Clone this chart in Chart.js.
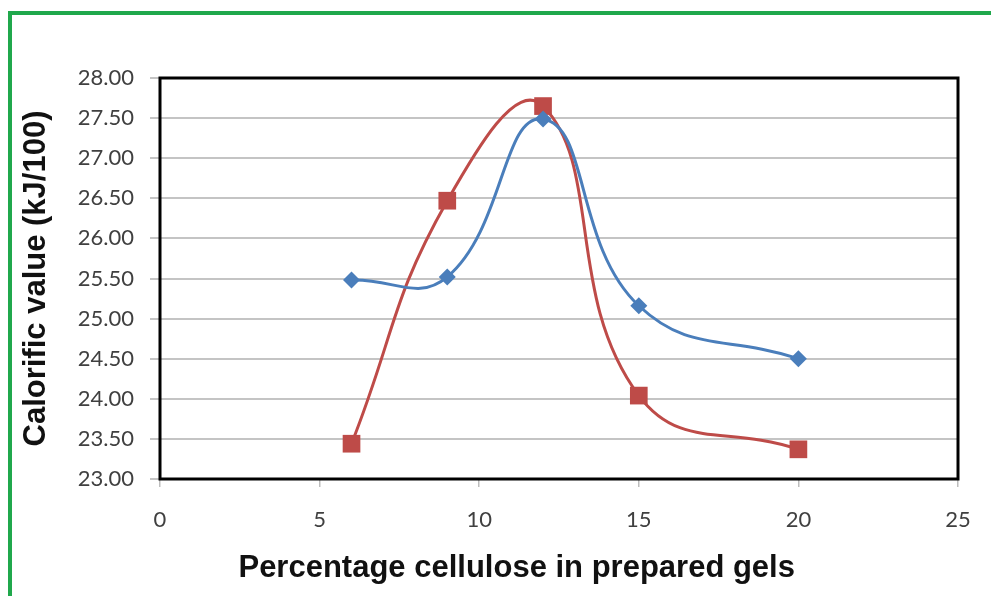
<!DOCTYPE html>
<html>
<head>
<meta charset="utf-8">
<script src="https://cdn.jsdelivr.net/npm/chart.js@4"></script>
<style>
    html, body { margin: 0; padding: 0; background: #ffffff; overflow: hidden; }
    #frame
    {
        position: absolute; left: 8px; top: 11px;
        width: 1200px; height: 800px;
        border: 4px solid #20a84c;
    }
    #holder { position: absolute; left: 0; top: 0; width: 991px; height: 596px; }
</style>
</head>
<body>
<div id="frame"></div>
<div id="holder"><canvas id="calorific_chart"></canvas></div>
<script>

// Cellulose percentage in the gels (x) and calorific value (kJ/100) for the two series
const cellulose_percent = [6, 9, 12, 15, 20]
const calorific_blue = [25.48, 25.52, 27.49, 25.16, 24.50]
const calorific_red = [23.44, 26.47, 27.65, 24.04, 23.37]

const x_ticks = [0, 5, 10, 15, 20, 25]
const y_ticks = [23.0, 23.5, 24.0, 24.5, 25.0, 25.5, 26.0, 26.5, 27.0, 27.5, 28.0]

const x_title = "Percentage cellulose in prepared gels"
const y_title = "Calorific value (kJ/100)"

const tick_font = { family: "Lato", size: 22 }
const title_font_family = "'Liberation Sans', Arial, sans-serif"

function to_points(ys)
{
    return cellulose_percent.map((x, i) => ({ x: x, y: ys[i] }))
}

// Black box around the plot area, like the spreadsheet chart it comes from
const plot_frame = {
    id: "plot_frame",
    beforeDatasetsDraw(chart)
    {
        const { ctx, chartArea } = chart
        ctx.save()
        ctx.strokeStyle = "#000000"
        ctx.lineWidth = 3
        ctx.strokeRect(chartArea.left, chartArea.top, chartArea.right - chartArea.left, chartArea.bottom - chartArea.top)
        ctx.restore()
    }
}

// The x title sits a little left of the plot centre, so it is drawn by hand
const x_axis_title = {
    id: "x_axis_title",
    afterDraw(chart)
    {
        const { ctx, chartArea } = chart
        ctx.save()
        ctx.font = "bold 31px " + title_font_family
        ctx.fillStyle = "#111111"
        ctx.textAlign = "center"
        ctx.textBaseline = "middle"
        ctx.fillText(x_title, chartArea.left + (chartArea.right - chartArea.left) * 0.447, 568)
        ctx.restore()
    }
}

const context_2d = document.getElementById("calorific_chart").getContext("2d")

new Chart(context_2d, {
    type: "line",
    data: {
        datasets: [
            {
                label: "Series 1",
                data: to_points(calorific_blue),
                borderColor: "#4a7ebb",
                backgroundColor: "#4a7ebb",
                borderWidth: 3,
                tension: 0.45,
                pointStyle: "rectRot",
                pointRadius: 8.5,
                pointBorderWidth: 0,
                fill: false,
            },
            {
                label: "Series 2",
                data: to_points(calorific_red),
                borderColor: "#be4b48",
                backgroundColor: "#be4b48",
                borderWidth: 3,
                tension: 0.45,
                pointStyle: "rect",
                pointRadius: 12.5,
                pointBorderWidth: 0,
                fill: false,
            },
        ]
    },
    options: {
        responsive: true,
        maintainAspectRatio: false,
        animation: false,
        layout: {
            padding: { left: 12, top: 78, right: 33, bottom: 0 }
        },
        plugins: {
            legend: { display: false },
            tooltip: { enabled: false },
        },
        scales: {
            x: {
                type: "linear",
                min: x_ticks[0],
                max: x_ticks[x_ticks.length - 1],
                afterBuildTicks: axis => { axis.ticks = x_ticks.map(v => ({ value: v })) },
                afterFit: axis => { axis.height = 117 },
                ticks: {
                    font: tick_font,
                    color: "#404040",
                    padding: 20,
                    maxRotation: 0,
                },
                grid: {
                    drawOnChartArea: false,
                    drawTicks: true,
                    tickLength: 8,
                    color: "#bdbdbd",
                    lineWidth: 1.5,
                },
                border: { display: false },
            },
            y: {
                min: y_ticks[0],
                max: y_ticks[y_ticks.length - 1],
                afterBuildTicks: axis => { axis.ticks = y_ticks.map(v => ({ value: v })) },
                afterFit: axis => { axis.width = 148 },
                ticks: {
                    font: tick_font,
                    color: "#404040",
                    padding: 16,
                    callback: value => Number(value).toFixed(2),
                },
                grid: {
                    drawTicks: true,
                    tickLength: 10,
                    color: "#c4c4c4",
                    lineWidth: 2,
                },
                border: { display: false },
                title: {
                    display: true,
                    text: y_title,
                    color: "#111111",
                    font: { family: title_font_family, size: 31, weight: "bold", lineHeight: 1.2 },
                    padding: { top: 6, bottom: 0 },
                },
            }
        }
    },
    plugins: [plot_frame, x_axis_title]
})
</script>
</body>
</html>
